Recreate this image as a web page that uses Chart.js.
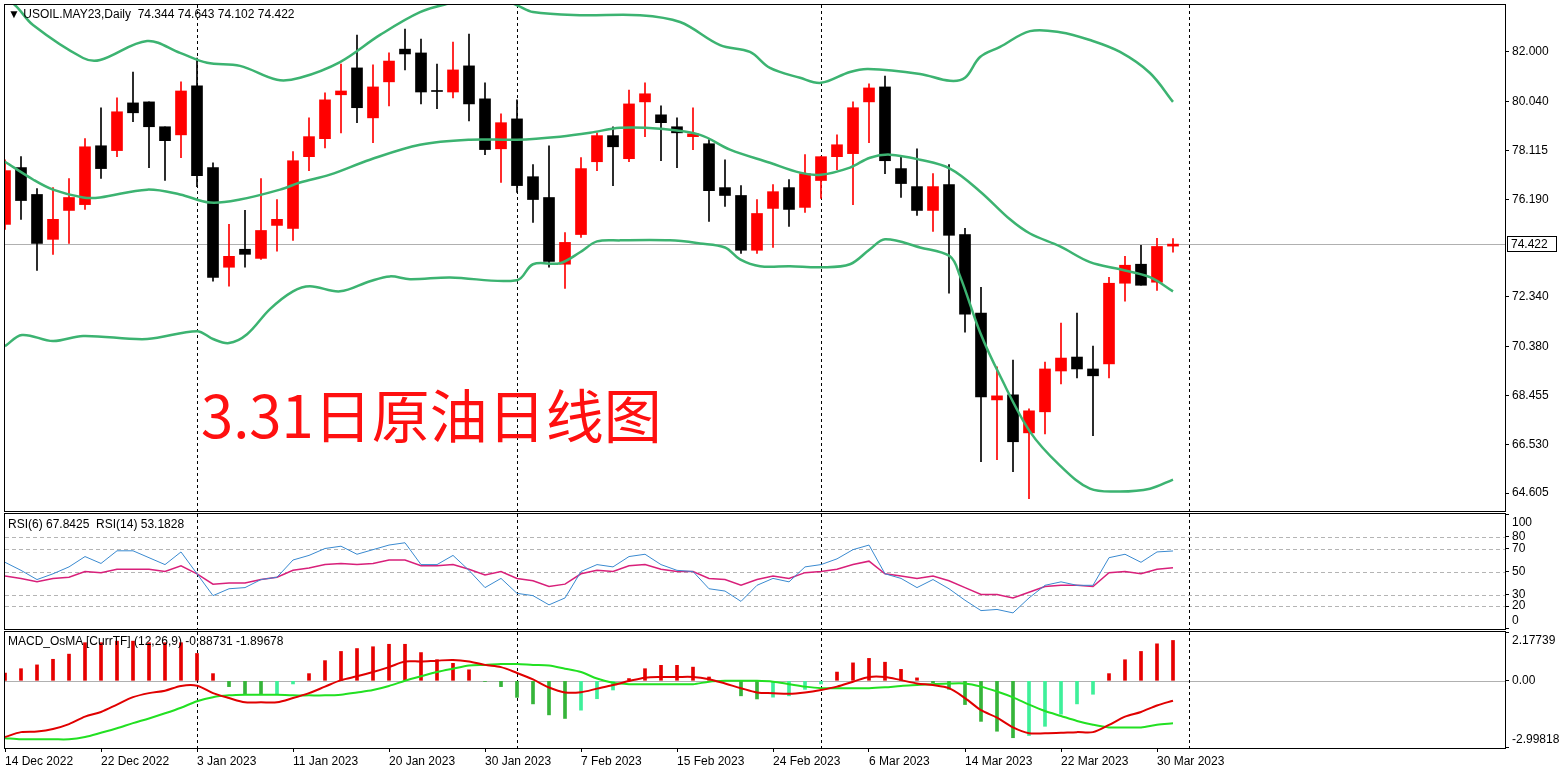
<!DOCTYPE html>
<html><head><meta charset="utf-8">
<script src="https://cdn.jsdelivr.net/npm/chart.js@4.4.0/dist/chart.umd.min.js"></script>
<style>
html,body{margin:0;padding:0;background:#fff;width:1565px;height:774px;overflow:hidden;font-family:"Liberation Sans",Arial,sans-serif;}
canvas{position:absolute;left:0;}
.lbl{position:absolute;font-size:12px;color:#000;white-space:pre;}
#big{position:absolute;left:201px;top:384px;font-family:"Noto Sans CJK SC";font-size:58px;line-height:1;color:#ff1010;white-space:nowrap;}
</style></head><body>
<canvas id="cMain" width="1565" height="512" style="top:0"></canvas>
<canvas id="cRsi" width="1565" height="118" style="top:512px"></canvas>
<canvas id="cMacd" width="1565" height="144" style="top:630px"></canvas>
<div class="lbl" style="left:8px;top:7px">▼ USOIL.MAY23,Daily  74.344 74.643 74.102 74.422</div>
<div class="lbl" style="left:8px;top:517px">RSI(6) 67.8425  RSI(14) 53.1828</div>
<div class="lbl" style="left:8px;top:634px">MACD_OsMA [CurrTF] (12,26,9) -0.88731 -1.89678</div>
<div id="big">3.31日原油日线图</div>
<script>
// ---------- DATA ----------
const opens = [75.20,77.44,76.38,74.61,75.75,75.98,78.30,78.11,79.99,80.03,
79.05,78.73,80.66,77.44,73.51,74.22,73.86,75.16,75.04,77.87,
78.58,80.31,81.37,79.40,80.82,82.11,81.96,80.46,80.42,81.45,
80.15,78.18,79.36,77.08,76.26,73.63,74.80,77.67,78.70,77.79,
80.03,79.52,79.05,78.66,78.38,76.65,76.34,74.18,75.83,76.65,
75.87,76.93,77.87,77.99,80.03,80.62,77.40,76.69,75.75,76.77,
74.80,71.70,68.28,68.48,66.98,67.81,69.42,69.97,69.50,69.70,
72.88,73.63,72.92,74.344];
const highs = [77.75,77.87,76.61,76.65,77.01,78.58,79.80,80.19,81.21,80.03,
79.05,80.82,81.76,77.63,75.20,75.75,77.01,76.18,78.07,79.40,
80.39,81.52,82.66,81.49,81.96,82.90,82.51,81.52,82.39,82.70,
80.78,79.56,80.11,77.56,78.30,74.88,77.83,78.81,79.05,80.50,
80.78,79.87,79.40,79.80,78.54,77.75,76.73,76.18,76.77,76.97,
77.95,77.87,78.73,80.03,80.74,81.05,77.91,78.18,77.20,77.56,
75.04,72.72,69.58,69.85,67.93,69.77,71.31,71.70,70.40,73.11,
73.94,74.37,74.65,74.643];
const lows = [75.00,75.40,73.39,74.02,74.45,75.79,77.01,77.87,79.25,77.44,
76.93,77.83,76.69,72.96,72.76,73.51,73.82,74.14,74.57,77.32,
78.22,78.81,79.21,78.42,79.87,81.29,79.95,79.76,80.19,79.28,
77.95,76.85,76.46,75.28,73.51,72.68,74.69,77.32,76.73,77.67,
78.66,77.71,77.44,78.15,75.32,75.91,74.06,74.06,74.29,75.12,
75.67,76.22,77.36,75.98,78.42,77.20,76.26,75.55,74.92,72.49,
70.95,65.84,65.92,65.45,64.39,66.94,68.91,69.15,66.87,69.15,
72.17,72.80,72.60,74.102];
const closes = [77.32,76.14,74.45,75.40,76.26,78.26,77.40,79.64,79.60,79.05,
78.50,80.46,77.12,73.11,73.94,74.02,74.96,75.40,77.71,78.66,
80.11,80.46,79.80,80.62,81.64,81.92,80.42,80.44,81.29,79.95,
78.15,79.21,76.73,76.18,73.74,74.49,77.40,78.70,78.26,79.95,
80.35,79.21,78.81,78.77,76.53,76.34,74.18,75.63,76.49,75.79,
77.20,77.87,78.34,79.80,80.58,77.71,76.81,75.75,76.69,74.77,
71.66,68.40,68.44,66.63,67.85,69.50,69.93,69.50,69.23,72.88,
73.59,72.80,74.33,74.422];

const bbUpperIdx = [-0.5,0.63,1.75,4.88,5.94,8.88,10.94,12.63,14.69,17.0,18.44,20.94,23.44,25.94,27.81,30.3,32.0,33.0,35.94,39.69,42.19,44.69,46.56,47.81,49.69,51.0,52.81,53.94,57.19,59.06,60.0,60.94,62.19,64.06,65.94,67.81,69.69,71.56,73.0];
const bbUpperVal = [84.3,83.84,83.06,81.76,81.68,82.43,81.96,81.57,81.45,80.90,80.98,81.60,82.67,83.57,83.92,84.24,83.84,83.57,83.45,83.45,83.18,82.27,82.00,81.37,80.98,80.78,81.21,81.33,81.13,80.86,80.98,81.80,82.20,82.82,82.78,82.47,82.00,81.17,80.03];
const bbMidIdx = [0,1.75,3,4.88,5.94,8.88,10.94,12.81,14.69,17.19,18.44,20.31,22.81,25.94,29.06,32,34.69,36.56,38.44,40.94,43.44,45.31,47.81,49.69,51,52.81,54.06,55.31,57.19,59.06,60.94,62.81,64.06,65.94,67.81,69.69,71.56,73];
const bbMidVal = [77.67,76.97,76.57,76.26,76.26,76.57,76.38,76.06,76.18,76.57,76.85,77.16,77.75,78.34,78.54,78.54,78.66,78.81,79.01,78.97,78.73,78.15,77.63,77.24,77.16,77.44,77.83,77.95,77.75,77.40,76.50,75.40,74.84,74.33,73.71,73.43,73.12,72.56];
const bbLowIdx = [0,1.06,3,4.88,8.88,12,13,14,15.13,16.56,18,19.06,20.94,22.81,24.06,25.31,27.81,32,33,34.69,35.94,37,38.44,41.56,43.44,45,45.94,47.19,49.06,51,52.81,54.06,55,57.19,59.06,59.69,60.94,62.19,64.06,65.94,67.81,69.69,71.56,73];
const bbLowVal = [70.40,70.84,70.60,70.80,70.68,70.99,70.68,70.52,70.87,71.86,72.56,72.76,72.56,72.96,73.15,73.04,73.11,73.00,73.63,73.67,74.10,74.53,74.57,74.57,74.45,74.29,73.82,73.55,73.55,73.51,73.63,74.22,74.61,74.29,73.94,73.16,70.95,69.23,67.03,65.69,64.78,64.67,64.78,65.14];

const rsi6 = [58,51,43,48,54,63,57,68,68,62, 56,67,48,29,35,36,43,45,60,64, 70,72,65,69,73,75,56,56,64,51,
36,44,31,29,21,27,50,56,54,63, 65,56,51,50,35,33,24,38,44,41, 54,56,61,69,73,48,44,36,43,35,
25,16,17,14,27,38,41,38,38,62, 65,58,67,67.84];
const rsi14 = [46,44,41,44,45,50,49,52,52,52, 50,55,48,39,40,40,43,45,51,53, 56,57,56,57,60,60,55,55,56,52,
47,50,44,42,37,39,48,51,50,55, 56,52,50,50,44,43,38,43,46,44, 49,50,52,56,59,48,46,44,46,42,
36,30,30,27,32,37,38,38,37,49, 50,48,52,53.18];

const osma = [0.35,0.54,0.71,0.96,1.19,1.70,1.70,1.77,1.77,1.70, 1.70,1.70,1.22,0.32,-0.26,-0.62,-0.62,-0.60,-0.14,0.32,
0.90,1.31,1.44,1.52,1.63,1.63,1.26,0.94,0.78,0.49, -0.03,-0.26,-0.74,-1.03,-1.52,-1.68,-1.31,-0.80,-0.41,0.10,
0.54,0.69,0.69,0.61,0.17,0.02,-0.67,-0.81,-0.73,-0.67, -0.38,-0.14,0.39,0.80,1.00,0.83,0.51,0.13,-0.09,-0.38,
-1.06,-1.81,-2.25,-2.54,-2.44,-2.03,-1.49,-1.03,-0.60,0.32, 0.94,1.31,1.65,1.80];
const macdMain = [-2.51,-2.29,-2.26,-2.15,-1.93,-1.60,-1.39,-1.06,-0.73,-0.55, -0.44,-0.23,-0.22,-0.55,-0.77,-0.96,-0.96,-0.96,-0.77,-0.55,
-0.26,0.03,0.20,0.39,0.61,0.86,0.86,0.90,0.93,0.86, 0.71,0.61,0.35,0.06,-0.30,-0.52,-0.51,-0.35,-0.19,-0.01,
0.14,0.17,0.17,0.17,0.07,-0.12,-0.33,-0.52,-0.55,-0.58, -0.52,-0.41,-0.26,-0.04,0.17,0.17,0.03,-0.12,-0.19,-0.33,
-0.77,-1.31,-1.64,-2.08,-2.34,-2.34,-2.32,-2.29,-2.29,-1.97, -1.60,-1.39,-1.10,-0.887];
const macdSignal = [-2.56,-2.61,-2.61,-2.61,-2.61,-2.51,-2.32,-2.12,-1.89,-1.68, -1.45,-1.20,-0.91,-0.73,-0.65,-0.62,-0.62,-0.62,-0.65,-0.65,
-0.65,-0.62,-0.52,-0.41,-0.23,0.00,0.20,0.39,0.54,0.68, 0.71,0.75,0.75,0.71,0.68,0.54,0.39,0.10,-0.09,-0.15,
-0.15,-0.15,-0.15,-0.15,-0.04,0,0,0,-0.04,-0.15, -0.26,-0.33,-0.33,-0.33,-0.33,-0.29,-0.23,-0.19,-0.15,-0.12,
-0.12,-0.26,-0.48,-0.74,-1.06,-1.35,-1.57,-1.79,-1.96,-2.08, -2.08,-2.08,-1.96,-1.897];

const priceTicks = [82.000,80.040,78.115,76.190,72.340,70.380,68.455,66.530,64.605];
const rsiTicks = [20,30,50,70,80];
const rsiEdge = [100,0];
const rsiLevels = [20,30,50,70,80];
const macdTicks = [0];
const macdEdge = [2.17739,-2.99818];
const dateTickIdx = [0,6,12,18,24,30,36,42,48,54,60,66,72];
const dateTickText = ['14 Dec 2022','22 Dec 2022','3 Jan 2023','11 Jan 2023','20 Jan 2023','30 Jan 2023','7 Feb 2023','15 Feb 2023','24 Feb 2023','6 Mar 2023','14 Mar 2023','22 Mar 2023','30 Mar 2023'];
const monthSepIdx = [12,32,51,74];
const lastPrice = 74.422;

// ---------- STYLE / HELPERS ----------
Chart.defaults.font.family = 'Liberation Sans';
Chart.defaults.font.size = 12;
Chart.defaults.color = '#000';
Chart.defaults.animation = false;
const XMIN = 0, XMAX = 93.75;
const idx = opens.map((_, i) => i);
const up = idx.map(i => closes[i] >= opens[i]);
const candleCol = up.map(u => u ? '#ff0000' : '#000000');

function xAxis(show) {
  const ax = { type:'linear', min:XMIN, max:XMAX, display:show, offset:false,
    afterBuildTicks: s => { s.ticks = dateTickIdx.map(v => ({value:v})); },
    afterDataLimits: s => { s.min = XMIN; s.max = XMAX; },
    ticks: { autoSkip:false, maxRotation:0, minRotation:0, align:'start', padding:2,
      callback: v => dateTickText[dateTickIdx.indexOf(v)] },
    grid: { drawOnChartArea:false, tickLength:4, color:'#000', offset:false }, border:{display:false} };
  if (show) ax.afterFit = s => { s.height = 26; s.paddingLeft = 0; s.paddingRight = 0; };
  return ax;
}
function yAxis(min, max, ticks, fmt) {
  return { type:'linear', position:'right', min, max,
    afterBuildTicks: s => { s.ticks = ticks.map(v => ({value:v})); },
    afterFit: s => { s.width = 60; s.paddingTop = 0; s.paddingBottom = 0; },
    ticks: { autoSkip:false, padding:3, callback: fmt },
    grid: { drawOnChartArea:false, tickLength:4, color:'#000' }, border:{display:false} };
}
const decoPlugin = {
  id:'deco',
  beforeDatasetsDraw(chart, args, opts) {
    const {ctx, chartArea:a, scales} = chart;
    ctx.save();
    ctx.beginPath(); ctx.rect(a.left, a.top, a.right-a.left, a.bottom-a.top); ctx.clip();
    ctx.lineWidth = 1;
    if (opts.levels) {
      ctx.strokeStyle = '#b4b4b4'; ctx.setLineDash([4,3]);
      opts.levels.forEach(v => { const y = Math.round(scales.y.getPixelForValue(v))+0.5;
        ctx.beginPath(); ctx.moveTo(a.left,y); ctx.lineTo(a.right,y); ctx.stroke(); });
    }
    if (opts.hline !== undefined) {
      ctx.strokeStyle = '#b0b0b0'; ctx.setLineDash([]);
      const y = Math.round(scales.y.getPixelForValue(opts.hline))+0.5;
      ctx.beginPath(); ctx.moveTo(a.left,y); ctx.lineTo(a.right,y); ctx.stroke();
    }
    ctx.strokeStyle = '#000'; ctx.setLineDash([3,3]);
    monthSepIdx.forEach(v => { const x = Math.round(scales.x.getPixelForValue(v))+0.5;
      ctx.beginPath(); ctx.moveTo(x,a.top); ctx.lineTo(x,a.bottom); ctx.stroke(); });
    ctx.restore();
  },
  afterDraw(chart, args, opts) {
    const {ctx, chartArea:a, scales} = chart;
    ctx.save();
    ctx.strokeStyle = '#000'; ctx.lineWidth = 1; ctx.setLineDash([]);
    ctx.strokeRect(a.left-0.5, a.top-0.5, a.right-a.left+1, a.bottom-a.top+1);
    ctx.font = '12px Liberation Sans'; ctx.textBaseline = 'middle'; ctx.fillStyle = '#000';
    if (opts.edge) {
      const [top, bot, fmt] = opts.edge;
      ctx.fillText(fmt(top), a.right+7, a.top+9);
      ctx.fillText(fmt(bot), a.right+7, a.bottom-8);
      ctx.beginPath(); ctx.moveTo(a.right, a.top+0.5); ctx.lineTo(a.right+4, a.top+0.5);
      ctx.moveTo(a.right, a.bottom-0.5); ctx.lineTo(a.right+4, a.bottom-0.5); ctx.stroke();
    }
    if (opts.priceBox !== undefined) {
      const y = Math.round(scales.y.getPixelForValue(opts.priceBox));
      ctx.fillStyle = '#fff';
      ctx.fillRect(a.right+2, y-8, 50, 16);
      ctx.strokeRect(a.right+2.5, y-7.5, 49, 15);
      ctx.fillStyle = '#000';
      ctx.fillText(opts.priceBox.toFixed(3), a.right+6, y+1);
    }
    ctx.restore();
  }
};
const common = { responsive:false, devicePixelRatio:1, animation:false,
  plugins:{ legend:{display:false}, tooltip:{enabled:false} } };

// ---------- MAIN ----------
const bbLine = (xs, ys) => ({ type:'line', data: xs.map((x,k)=>({x, y:ys[k]})), borderColor:'#3cb371',
  borderWidth:2.5, pointRadius:0, tension:0.35, order:0 });
new Chart(document.getElementById('cMain'), {
  type:'bar',
  data:{ datasets:[
    { data: idx.map(i => ({x:i, y:[lows[i], highs[i]]})), backgroundColor:candleCol, barThickness:1, grouped:false, order:2 },
    { data: idx.map(i => ({x:i, y:[opens[i], closes[i]]})), backgroundColor:candleCol, barThickness:11, minBarLength:1, grouped:false, order:1 },
    bbLine(bbUpperIdx, bbUpperVal), bbLine(bbMidIdx, bbMidVal), bbLine(bbLowIdx, bbLowVal)
  ]},
  options:{ ...common, layout:{padding:{left:5, top:5, right:0, bottom:1}},
    scales:{ x: xAxis(false), y: yAxis(63.9, 83.85, priceTicks, v => v.toFixed(3)) },
    plugins:{ ...common.plugins, deco:{ hline:lastPrice, priceBox:lastPrice } } },
  plugins:[decoPlugin]
});

// ---------- RSI ----------
new Chart(document.getElementById('cRsi'), {
  type:'line',
  data:{ datasets:[
    { data: idx.map(i => ({x:i, y:rsi6[i]})), borderColor:'#3a8ad0', borderWidth:1, pointRadius:0, tension:0 },
    { data: idx.map(i => ({x:i, y:rsi14[i]})), borderColor:'#d8207a', borderWidth:1.5, pointRadius:0, tension:0 }
  ]},
  options:{ ...common, layout:{padding:{left:5, top:2, right:0, bottom:1}},
    scales:{ x: xAxis(false), y: yAxis(0, 100, rsiTicks, v => String(v)) },
    plugins:{ ...common.plugins, deco:{ levels:rsiLevels, edge:[rsiEdge[0], rsiEdge[1], v => String(v)] } } },
  plugins:[decoPlugin]
});

// ---------- MACD ----------
const histCol = osma.map((v,i) => v >= 0 ? '#e60000' : (i > 0 && v > osma[i-1] ? '#3ef09a' : '#36b43a'));
new Chart(document.getElementById('cMacd'), {
  type:'bar',
  data:{ datasets:[
    { data: idx.map(i => ({x:i, y:[0, osma[i]]})), backgroundColor:histCol, barThickness:3, grouped:false, order:2 },
    { type:'line', data: idx.map(i => ({x:i, y:macdSignal[i]})), borderColor:'#22e022', borderWidth:2, pointRadius:0, tension:0.3, order:1 },
    { type:'line', data: idx.map(i => ({x:i, y:macdMain[i]})), borderColor:'#e00000', borderWidth:2, pointRadius:0, tension:0.3, order:0 }
  ]},
  options:{ ...common, layout:{padding:{left:5, top:2, right:0, bottom:0}},
    scales:{ x: xAxis(true), y: yAxis(macdEdge[1], macdEdge[0], macdTicks, v => v.toFixed(2)) },
    plugins:{ ...common.plugins, deco:{ hline:0, edge:[macdEdge[0], macdEdge[1], v => v.toFixed(5)] } } },
  plugins:[decoPlugin]
});
</script>
</body></html>
